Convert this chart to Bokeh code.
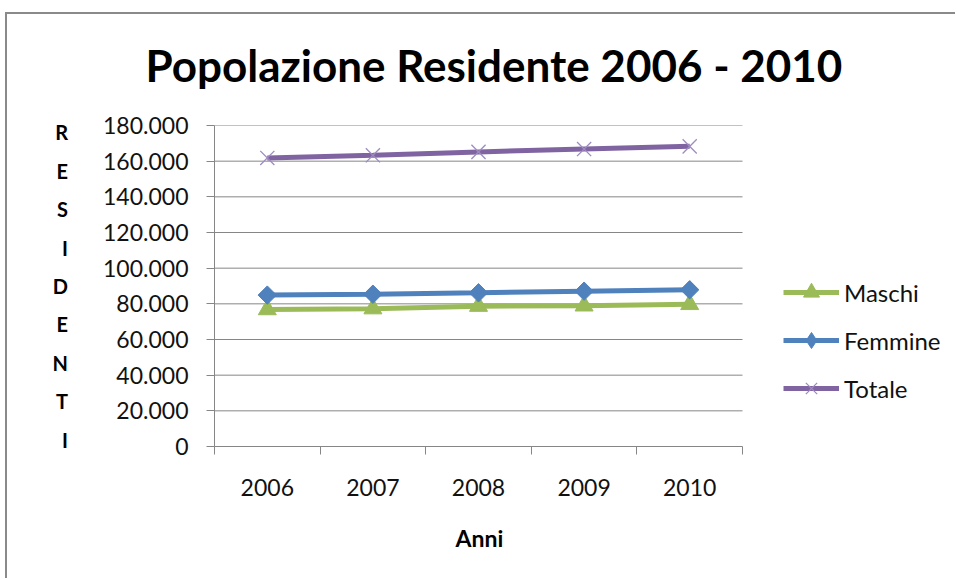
from bokeh.plotting import figure
from bokeh.models import FixedTicker, Legend, LegendItem, Title
from bokeh.embed import file_html
from bokeh.resources import INLINE
import math

# ---- data ----
years = ["2006", "2007", "2008", "2009", "2010"]
maschi = [76800, 77300, 78700, 78900, 79700]
femmine = [84900, 85400, 86200, 87100, 87900]
totale = [161800, 163300, 165200, 166800, 168300]
y_ticks = [0, 20000, 40000, 60000, 80000, 100000, 120000, 140000, 160000, 180000]
title_text = "Popolazione Residente 2006 - 2010"
y_title = "RESIDENTI"
x_title = "Anni"

FONT = "Lato"
GRID = "#868686"
EDGE = "#8a8a8a"

n = len(years)
x = [i + 1 for i in range(n)]

# layout (pixels)
W, H = 955, 578
BL, BR, BT, BB = 214, 0, 125, H - 446
axis_px = 528                     # width of the category axis
frame_px = W - BL - BR
x_end = 0.5 + n * frame_px / axis_px   # extra room on the right for the legend

p = figure(width=W, height=H, output_backend="svg", toolbar_location=None,
           x_range=(0.5, x_end), y_range=(0, y_ticks[-1]),
           min_border_left=BL, min_border_right=BR, min_border_top=BT,
           min_border_bottom=BB)
# chart-area border (left and top edges) drawn behind a transparent canvas border
p.styles = {"background": (f"linear-gradient({EDGE}, {EDGE}) 5px 12px / 2px calc(100% - 12px) no-repeat, "
                           f"linear-gradient({EDGE}, {EDGE}) 5px 12px / calc(100% - 5px) 2px no-repeat, "
                           "#ffffff")}
p.outline_line_color = None
p.background_fill_color = "white"
p.border_fill_alpha = 0

# title
p.title.text = title_text
p.title.align = "left"
p.title.offset = -69
p.title.text_font = FONT
p.title.text_font_style = "bold"
p.title.text_font_size = "44px"
p.title.text_color = "black"
p.title.standoff = 70

# x axis title placed under the category axis
p.add_layout(Title(text=x_title, align="left", offset=241, standoff=46,
                   text_font=FONT, text_font_style="bold", text_font_size="23px",
                   text_color="black"), "below")

# axes
p.xaxis.bounds = (0.5, n + 0.5)
p.xaxis.ticker = FixedTicker(ticks=x, minor_ticks=[v - 0.5 for v in x] + [x[-1] + 0.5])
p.xaxis.major_label_overrides = {v: lab for v, lab in zip(x, years)}
p.xaxis.major_tick_out = 0
p.xaxis.major_tick_in = 0
p.xaxis.minor_tick_out = 8
p.xaxis.minor_tick_in = 0
p.xaxis.minor_tick_line_color = GRID
p.xaxis.axis_line_color = GRID
p.xaxis.major_label_text_font = FONT
p.xaxis.major_label_text_font_size = "23px"
p.xaxis.major_label_text_color = "#111111"
p.xaxis.major_label_standoff = 24

p.yaxis.ticker = FixedTicker(ticks=y_ticks, minor_ticks=[])
p.yaxis.major_label_overrides = {v: f"{v:,}".replace(",", ".") for v in y_ticks}
p.yaxis.major_tick_out = 8
p.yaxis.major_tick_in = 0
p.yaxis.major_tick_line_color = GRID
p.yaxis.axis_line_color = GRID
p.yaxis.major_label_text_font = FONT
p.yaxis.major_label_text_font_size = "23px"
p.yaxis.major_label_text_color = "#111111"
p.yaxis.major_label_standoff = 18
p.yaxis.axis_label = "\n".join(y_title)
p.yaxis.axis_label_orientation = "horizontal"
p.yaxis.axis_label_text_font = FONT
p.yaxis.axis_label_text_font_style = "bold"
p.yaxis.axis_label_text_font_size = "20px"
p.yaxis.axis_label_text_color = "black"
p.yaxis.axis_label_text_line_height = 1.6
p.yaxis.axis_label_text_align = "center"
p.yaxis.axis_label_standoff = 32

# horizontal gridlines only across the category area
p.xgrid.grid_line_color = None
p.ygrid.grid_line_color = None
p.segment(x0=0.5, x1=n + 0.5, y0=y_ticks[1:], y1=y_ticks[1:],
          line_color=GRID, line_width=1, level="underlay")

# series
green, blue, purple = "#9BBB59", "#4F81BD", "#8064A2"
lm = p.line(x, maschi, line_color=green, line_width=5)
mm = p.scatter(x, maschi, marker="triangle", size=18, fill_color=green, line_color=green)
lf = p.line(x, femmine, line_color=blue, line_width=5)
mf = p.scatter(x, femmine, marker="square", size=13, angle=math.pi / 4,
               fill_color=blue, line_color=blue)
mf_leg = p.scatter(x, femmine, marker="diamond", size=18, fill_color=blue,
                   line_color=blue, visible=False)
lt = p.line(x, totale, line_color=purple, line_width=5)
mt = p.scatter(x, totale, marker="x", size=20, line_color="#9E8BC0", line_width=1.3)

legend = Legend(items=[LegendItem(label="Maschi", renderers=[lm, mm]),
                       LegendItem(label="Femmine", renderers=[lf, mf_leg]),
                       LegendItem(label="Totale", renderers=[lt, mt])],
                location=(569, 38), orientation="vertical",
                glyph_width=56, glyph_height=40, label_height=40, spacing=8,
                label_standoff=5, padding=0, margin=0,
                label_text_font=FONT, label_text_font_size="24px",
                label_text_color="#111111",
                border_line_alpha=0, background_fill_alpha=0)
p.add_layout(legend, "center")

open("out.html", "w").write(file_html(p, INLINE))
